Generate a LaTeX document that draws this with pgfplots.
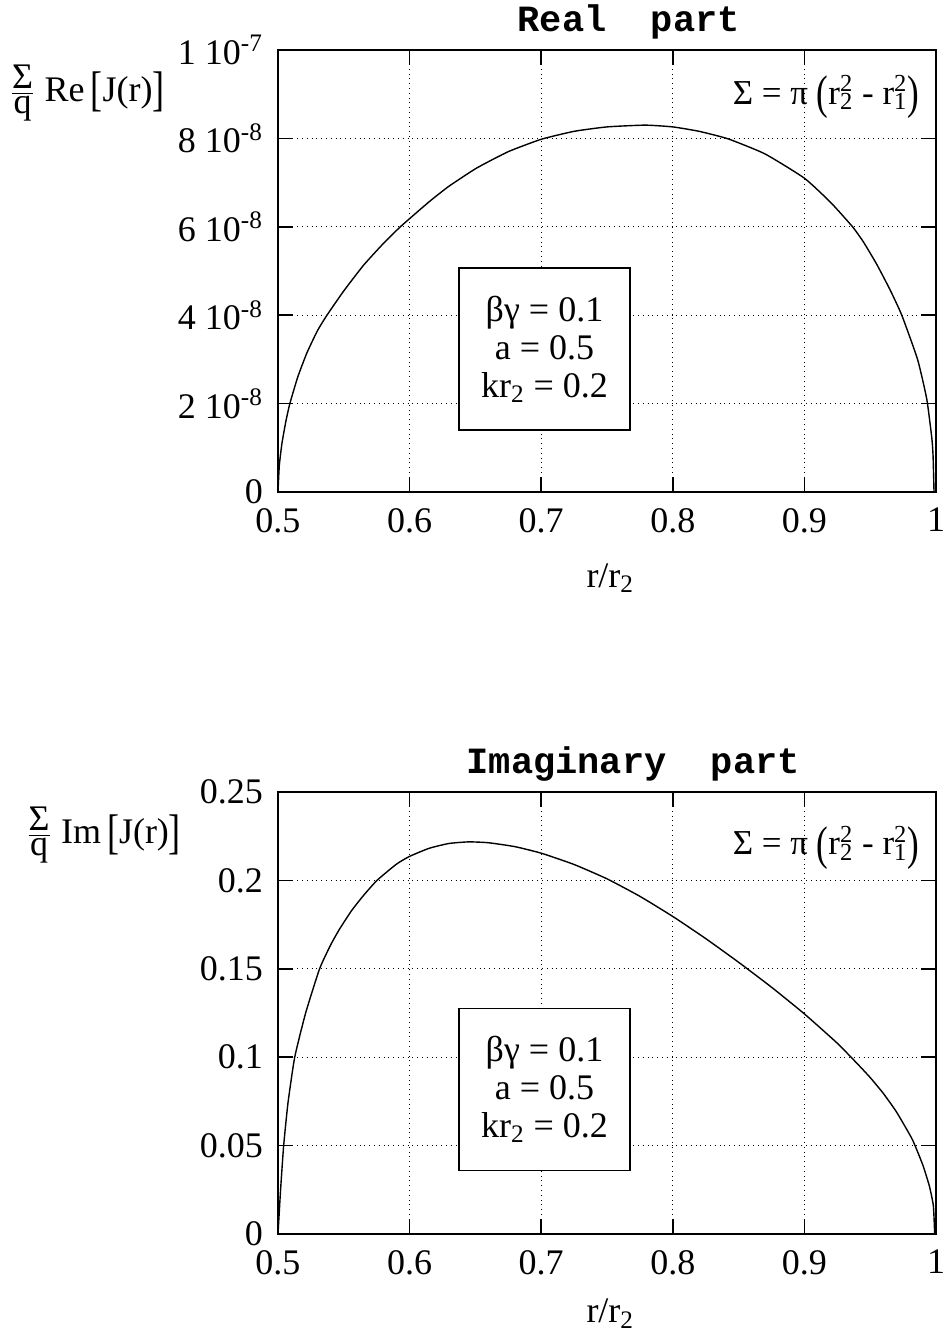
\documentclass[border=0pt]{standalone}
\usepackage{fontspec}
\setmainfont{Liberation Serif}
\newfontfamily\courier{Liberation Mono}
\usepackage{graphicx}
\usepackage{pgfplots}
\pgfplotsset{compat=1.18}

% r with stacked super- and subscript
\newcommand{\rr}[1]{r\makebox[0pt][l]{\textsuperscript{2}}\textsubscript{#1}}
\newcommand{\bigp}[1]{\raisebox{-0.12em}{\scalebox{1}[1.35]{#1}}}
\newcommand{\sigmaf}{Σ = π \bigp{(}\rr{2} - \rr{1}\bigp{)}}
\newcommand{\ylab}[1]{$\frac{\mbox{Σ}}{\mbox{q}}$ #1\,\bigp{[}J(r)\bigp{]}}
\newcommand{\params}{βγ = 0.1\\a = 0.5\\kr\textsubscript{2} = 0.2}
\newcommand{\fs}{\fontsize{18}{18}\selectfont}

\tikzset{
  pbox/.style={draw, line width=0.8pt, fill=white, align=center, minimum width=85.5pt, minimum height=81pt, font=\fontsize{18}{19}\selectfont},
  ttl/.style={font=\courier\bfseries\fontsize{18.5}{18.5}\selectfont, anchor=center},
}
\pgfplotsset{
  panel/.style={
    scale only axis, width=329pt, height=221pt,
    xmin=0.5, xmax=1, xtick={0.5,0.6,0.7,0.8,0.9,1},
    clip mode=individual,
    tick align=inside, major tick length=7.5pt,
    axis line style={line width=1pt},
    every tick/.style={black, line width=0.8pt},
    grid=major, major grid style={dotted, black, line width=0.6pt},
    tick label style={font=\fs},
    /pgf/number format/assume math mode=true,
    xticklabel style={yshift=-4.5pt},
    yticklabel style={xshift=-4pt},
    scaled ticks=false,
    xlabel={r/r\textsubscript{2}},
    xlabel style={font=\fs, anchor=center},
    ylabel style={font=\fs, rotate=-90, anchor=center},
  },
  curve/.style={black, line width=0.7pt, no marks, smooth, tension=0.3},
}

\begin{document}
\begin{tikzpicture}

\begin{axis}[panel, at={(0,0)}, anchor=north west,
  ymin=0, ymax=10, ytick={0,2,4,6,8,10},
  yticklabels={0, 2 10\textsuperscript{-8}, 4 10\textsuperscript{-8}, 6 10\textsuperscript{-8}, 8 10\textsuperscript{-8}, 1 10\textsuperscript{-7}},
  ylabel={\ylab{Re}},
  ylabel style={at={(axis description cs:-0.29,0.903)}},
  xlabel style={at={(axis description cs:0.505,-0.195)}},
]
% values in units of 1e-8
\addplot[curve] coordinates {
 (0.500,0) (0.501,0.6) (0.503,1.1) (0.506,1.6) (0.509,2.0) (0.515,2.6) (0.522,3.15)
 (0.530,3.65) (0.5372,4.0) (0.550,4.55) (0.565,5.13) (0.580,5.62) (0.5937,6.02)
 (0.615,6.57) (0.630,6.92) (0.651,7.33) (0.675,7.70) (0.700,7.98) (0.725,8.16)
 (0.750,8.26) (0.779,8.30) (0.800,8.26) (0.820,8.16) (0.842,7.99) (0.870,7.65)
 (0.900,7.10) (0.920,6.55) (0.9366,6.0) (0.945,5.65) (0.955,5.15) (0.965,4.58)
 (0.974,4.0) (0.986,3.0) (0.993,2.1) (0.9969,1.2) (0.9978,0.8) (0.9985,0)
};
\node[pbox] at (axis cs:0.7025,3.235) {\params};
\node[anchor=east, font=\fontsize{17.5}{17.5}\selectfont] at (axis description cs:0.985,0.894) {\sigmaf};
\node[ttl] at (axis description cs:0.533,1.063) {Real~~part};
\end{axis}

\begin{axis}[panel, at={(0,-371pt)}, anchor=north west,
  ymin=0, ymax=0.25, ytick={0,0.05,0.1,0.15,0.2,0.25},
  yticklabel style={/pgf/number format/fixed, /pgf/number format/precision=2},
  ylabel={\ylab{Im}},
  ylabel style={at={(axis description cs:-0.265,0.903)}},
  xlabel style={at={(axis description cs:0.505,-0.18)}},
]
\addplot[curve] coordinates {
 (0.500,0) (0.502,0.0254) (0.5043,0.05) (0.5076,0.0742) (0.5127,0.10) (0.521,0.125)
 (0.5316,0.15) (0.540,0.1635) (0.5468,0.1725) (0.556,0.183) (0.565,0.1915) (0.5752,0.200)
 (0.590,0.2092) (0.600,0.2136) (0.615,0.2182) (0.630,0.2209) (0.645,0.2218) (0.660,0.2213)
 (0.680,0.2191) (0.700,0.2154) (0.725,0.2090) (0.750,0.2009) (0.775,0.1910) (0.800,0.1796)
 (0.825,0.1671) (0.850,0.1537) (0.875,0.1396) (0.900,0.1245) (0.925,0.1079) (0.940,0.0965)
 (0.950,0.0885) (0.960,0.0795) (0.970,0.069) (0.982,0.0535) (0.990,0.039) (0.995,0.027)
 (0.998,0.016) (0.999,0)
};
\node[pbox] at (axis cs:0.7025,0.0818) {\params};
\node[anchor=east, font=\fontsize{17.5}{17.5}\selectfont] at (axis description cs:0.985,0.874) {\sigmaf};
\node[ttl] at (axis description cs:0.54,1.063) {Imaginary~~part};
\end{axis}

\pgfresetboundingbox
\path[use as bounding box] (-139pt,25pt) rectangle (332.5pt,-643pt);
\end{tikzpicture}
\end{document}
